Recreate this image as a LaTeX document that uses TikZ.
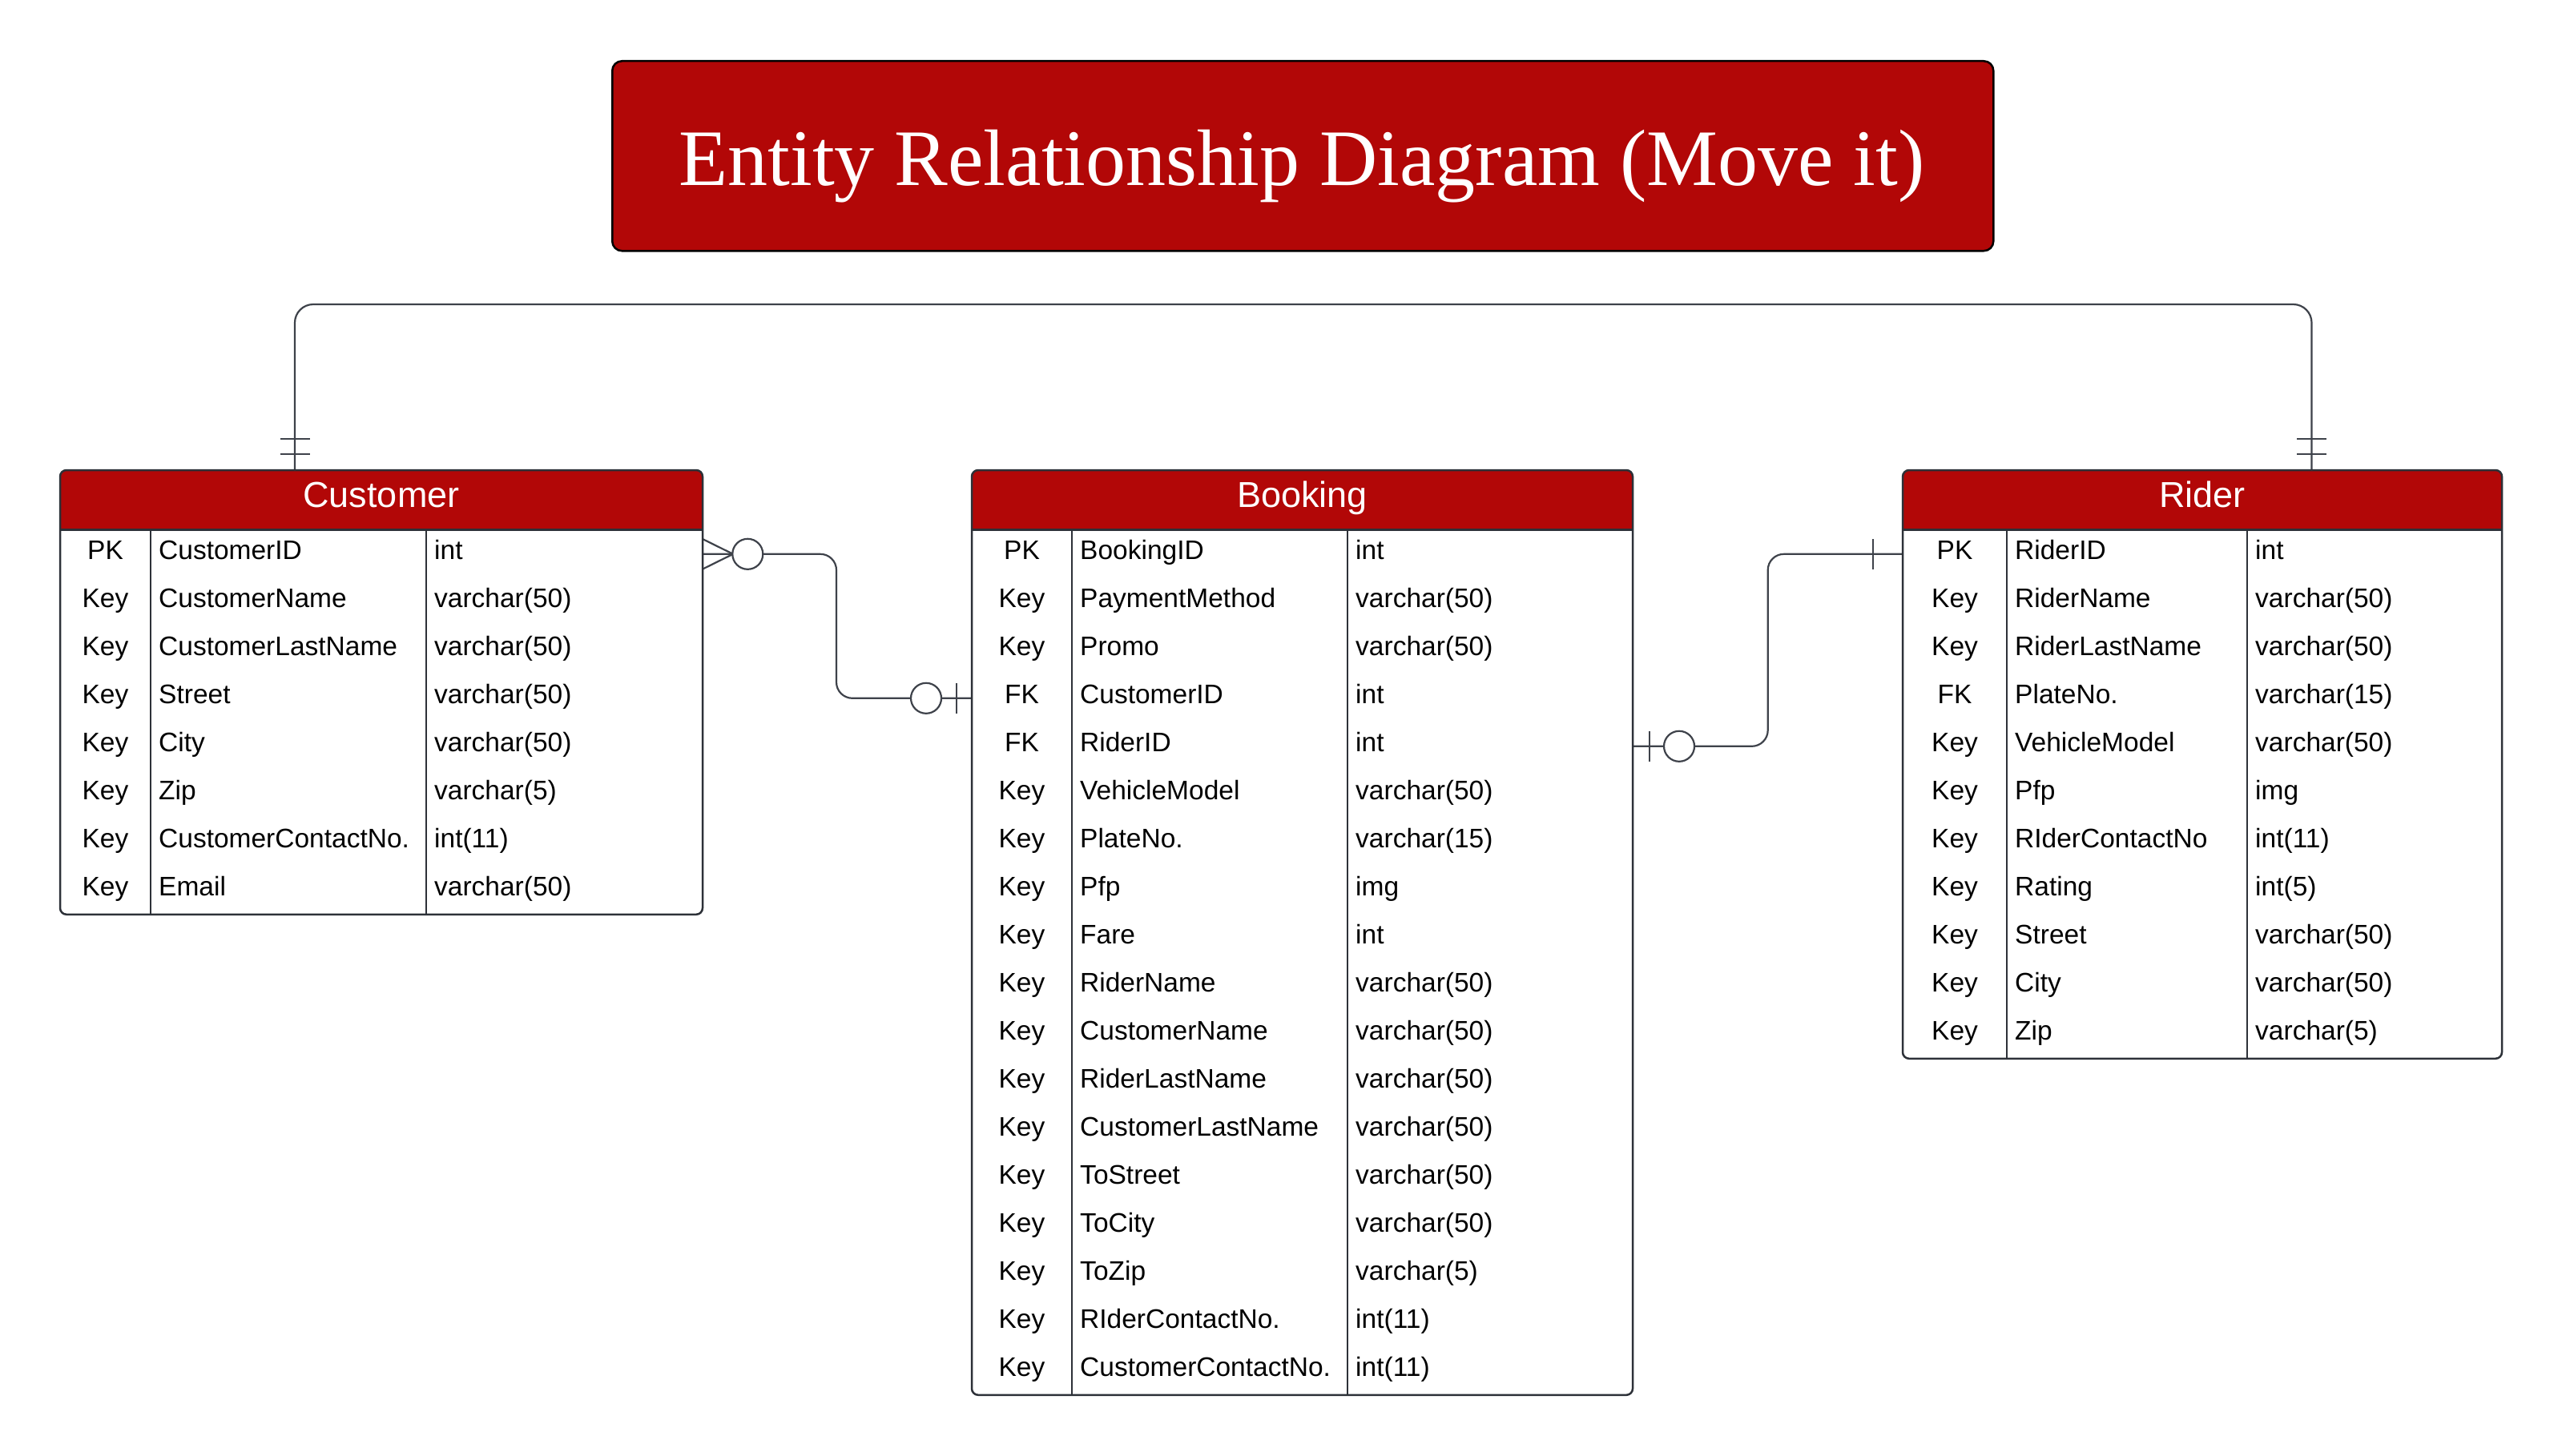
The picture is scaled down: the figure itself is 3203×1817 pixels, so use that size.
\documentclass[tikz,border=0pt]{standalone}
\usepackage{fontspec}
\setmainfont{Liberation Sans}
\newfontfamily\titlefont{Liberation Serif}
\definecolor{headred}{RGB}{178,7,7}
\definecolor{edgec}{RGB}{45,49,56}
\definecolor{linkc}{RGB}{62,66,74}
\tikzset{
  bodytext/.style={inner sep=0pt, font=\fontsize{33.5}{40}\selectfont, text=black},
  headtext/.style={inner sep=0pt, anchor=base, font=\fontsize{45}{53}\selectfont, text=white},
  tableframe/.style={draw=edgec, line width=2.5pt, rounded corners=8pt, inner sep=0pt, outer sep=0pt, anchor=north west},
  divider/.style={draw=edgec, line width=2pt},
  link/.style={draw=linkc, line width=2.2pt},
  ring/.style={draw=linkc, line width=2.2pt, fill=white},
}
% #1 name, #2 left, #3 div1, #4 div2, #5 right, #6 rows, #7 title, #8 row list
\newcommand\ertable[8]{%
  \pgfmathsetmacro\erbot{661.8+60*#6}%
  \pgfmathsetmacro\erw{#5-#2}%
  \pgfmathsetmacro\erh{\erbot-587}%
  \fill[headred, rounded corners=8pt] (#2,587) rectangle (#5,661.8);
  \fill[headred] (#2,630) rectangle (#5,661.8);
  \node[tableframe, minimum width=\erw pt, minimum height=\erh pt] (#1) at (#2,587) {};
  \draw[edgec, line width=3pt] (#2,661.8) -- (#5,661.8);
  \draw[divider] (#3,661.8) -- (#3,\erbot);
  \draw[divider] (#4,661.8) -- (#4,\erbot);
  \node[headtext] (#1-title) at ({(#2+#5)/2},633) {#7};
  \foreach \kk/\nn/\tt [count=\ii] in {#8} {
    \pgfmathsetmacro\yb{661.8+60*(\ii-1)+37}
    \node[bodytext, anchor=base] (#1-k\ii) at ({(#2+#3)/2},\yb) {\kk};
    \node[bodytext, anchor=base west] (#1-n\ii) at (#3+10,\yb) {\nn};
    \node[bodytext, anchor=base west] (#1-t\ii) at (#4+10,\yb) {\tt};
  }
}
\begin{document}
\begin{tikzpicture}[x=1pt,y=-1pt]
\fill[white] (0,0) rectangle (3203,1817);
\useasboundingbox (0,0) rectangle (3203,1817);

% title
\node[draw=black, line width=2.5pt, fill=headred, rounded corners=12pt,
      minimum width=1724pt, minimum height=237pt, inner sep=0pt, anchor=north west] (titlebox) at (763,75) {};
\node[anchor=base, inner sep=0pt, text=white, font=\titlefont\fontsize{100}{110}\selectfont] (titletext) at (1625,231) {Entity Relationship Diagram (Move it)};

% connection points
\coordinate (custTop) at (368,587);
\coordinate (riderTop) at (2885.5,587);
\coordinate (custPK) at (877,691.8);
\coordinate (bookFK) at (1213,871.8);
\coordinate (bookRid) at (2038,931.8);
\coordinate (riderPK) at (2375,691.8);

% Customer -- Rider (top)
\draw[link, rounded corners=23pt] (custTop) -- (368,380) -- (2885.5,380) -- (riderTop);
\draw[link] (349.5,548) -- (386.5,548);
\draw[link] (349.5,567) -- (386.5,567);
\draw[link] (2867,548) -- (2904,548);
\draw[link] (2867,567) -- (2904,567);

% Customer -- Booking
\draw[link, rounded corners=20pt] (custPK) -- (1044,691.8) -- (1044,871.8) -- (bookFK);
\draw[link] (877,673) -- (915,691.8) -- (877,710.6);
\node[ring, circle, minimum size=38pt, inner sep=0pt] (ring1) at (933.3,691.8) {};
\node[ring, circle, minimum size=38pt, inner sep=0pt] (ring2) at (1156,871.8) {};
\draw[link] (1194,853) -- (1194,890.6);

% Booking -- Rider
\draw[link, rounded corners=20pt] (bookRid) -- (2206.7,931.8) -- (2206.7,691.8) -- (riderPK);
\node[ring, circle, minimum size=38pt, inner sep=0pt] (ring3) at (2096,931.8) {};
\draw[link] (2059,913) -- (2059,950.6);
\draw[link] (2337.7,673) -- (2337.7,710.6);

% tables
\ertable{customer}{75}{188}{532}{877}{8}{Customer}{PK/CustomerID/int, Key/CustomerName/varchar(50), Key/CustomerLastName/varchar(50), Key/Street/varchar(50), Key/City/varchar(50), Key/Zip/varchar(5), Key/CustomerContactNo./int(11), Key/Email/varchar(50)}

\ertable{booking}{1213}{1338}{1682}{2038}{18}{Booking}{PK/BookingID/int, Key/PaymentMethod/varchar(50), Key/Promo/varchar(50), FK/CustomerID/int, FK/RiderID/int, Key/VehicleModel/varchar(50), Key/PlateNo./varchar(15), Key/Pfp/img, Key/Fare/int, Key/RiderName/varchar(50), Key/CustomerName/varchar(50), Key/RiderLastName/varchar(50), Key/CustomerLastName/varchar(50), Key/ToStreet/varchar(50), Key/ToCity/varchar(50), Key/ToZip/varchar(5), Key/RIderContactNo./int(11), Key/CustomerContactNo./int(11)}

\ertable{rider}{2375}{2505}{2805}{3123}{11}{Rider}{PK/RiderID/int, Key/RiderName/varchar(50), Key/RiderLastName/varchar(50), FK/PlateNo./varchar(15), Key/VehicleModel/varchar(50), Key/Pfp/img, Key/RIderContactNo/int(11), Key/Rating/int(5), Key/Street/varchar(50), Key/City/varchar(50), Key/Zip/varchar(5)}
\end{tikzpicture}
\end{document}
